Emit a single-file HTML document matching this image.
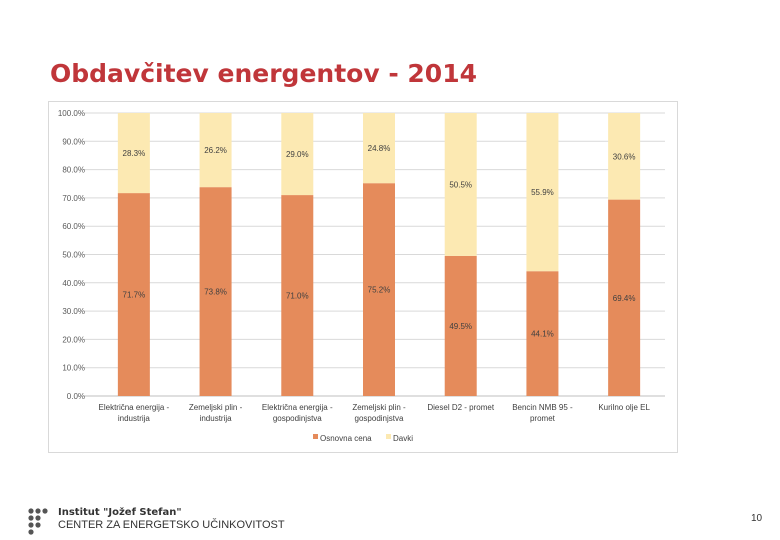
<!DOCTYPE html>
<html><head><meta charset="utf-8"><style>
body{margin:0;background:#fff;width:780px;height:540px;overflow:hidden;position:relative;font-family:"Liberation Sans",sans-serif}
</style></head><body>
<div style="position:absolute;left:50px;top:59px;font-size:25px;font-weight:bold;color:#C0363A;font-family:'DejaVu Sans','Liberation Sans',sans-serif;white-space:nowrap">Obdavčitev energentov - 2014</div>
<svg id="c" width="780" height="540" style="position:absolute;left:0;top:0" font-family="Liberation Sans, sans-serif"></svg>
<div style="position:absolute;left:58px;top:507px;font-size:11px;font-weight:bold;color:#333;font-family:'DejaVu Sans',sans-serif;font-size:10px">Institut "Jožef Stefan"</div>
<div style="position:absolute;left:58px;top:519px;font-size:11px;color:#333;white-space:nowrap">CENTER ZA ENERGETSKO UČINKOVITOST</div>
<div style="position:absolute;left:751px;top:513px;font-size:10px;color:#333">10</div>
<script>
const categories=["Električna energija - industrija","Zemeljski plin - industrija","Električna energija - gospodinjstva","Zemeljski plin - gospodinjstva","Diesel D2 - promet","Bencin NMB 95 - promet","Kurilno olje EL"];
const base=[71.7,73.8,71.0,75.2,49.5,44.1,69.4];
const taxes=[28.3,26.2,29.0,24.8,50.5,55.9,30.6];
const ticks=[0,10,20,30,40,50,60,70,80,90,100];
const NS="http://www.w3.org/2000/svg";
const svg=document.getElementById('c');
const x0=93,x1=665,y0=396,y1=113;
const y=v=>y0-(v/100)*(y0-y1);
const step=(x1-x0)/categories.length;
const xc=i=>x0+step*(i+0.5);
function el(t,a,p){const e=document.createElementNS(NS,t);for(const k in a)e.setAttribute(k,a[k]);(p||svg).appendChild(e);return e;}
const frame=el('rect',{x:48.5,y:101.5,width:629,height:351,fill:'#fff',stroke:'#d9d9d9'});


ticks.forEach(t=>{
 const g=el('line',{x1:83,x2:x1,y1:y(t),y2:y(t),stroke:t==0?'#bfbfbf':'#d9d9d9'});
 
 
 const l=el('text',{x:85,y:y(t)+3,'text-anchor':'end','font-size':8,fill:'#595959'});
 l.textContent=t.toFixed(1)+'%';
 
 
});
categories.forEach((c,i)=>{
 const bw=32,bx=xc(i)-bw/2;
 const b=el('rect',{x:bx,y:y(base[i]),width:bw,height:y0-y(base[i]),fill:'#E58B5B'});
 
 
 const t=el('rect',{x:bx,y:y(base[i]+taxes[i]),width:bw,height:y(base[i])-y(base[i]+taxes[i]),fill:'#FCE9B2'});
 
 
 const lb=el('text',{x:xc(i),y:(y(0)+y(base[i]))/2+3,'text-anchor':'middle','font-size':8,fill:'#404040'});
 lb.textContent=base[i].toFixed(1)+'%';
 
 
 const lt=el('text',{x:xc(i),y:(y(base[i])+y(base[i]+taxes[i]))/2+3,'text-anchor':'middle','font-size':8,fill:'#404040'});
 lt.textContent=taxes[i].toFixed(1)+'%';
 
 
 const parts=c.split(' - ');
 const cl=el('text',{x:xc(i),y:410,'text-anchor':'middle','font-size':8,fill:'#404040'});
 
 
 if(c.length>22||i<4||i==5){
  const s1=el('tspan',{x:xc(i),dy:0},cl);s1.textContent=parts[0]+' -';
  const s2=el('tspan',{x:xc(i),dy:11},cl);s2.textContent=parts[1];
 } else cl.textContent=c;
});
const lg=[['#E58B5B','Osnovna cena',313],['#FCE9B2','Davki',386]];
lg.forEach(d=>{
 const r=el('rect',{x:d[2],y:434,width:5,height:5,fill:d[0]});
 
 
 const t=el('text',{x:d[2]+7,y:441,'font-size':8,fill:'#404040'});
 t.textContent=d[1];
 
 
});
[[31,511],[38,511],[45,511],[31,518],[38,518],[31,525],[38,525],[31,532]].forEach(p=>{
 const d=el('circle',{cx:p[0],cy:p[1],r:2.6,fill:'#555'});
 
 
});
</script>
</body></html>
